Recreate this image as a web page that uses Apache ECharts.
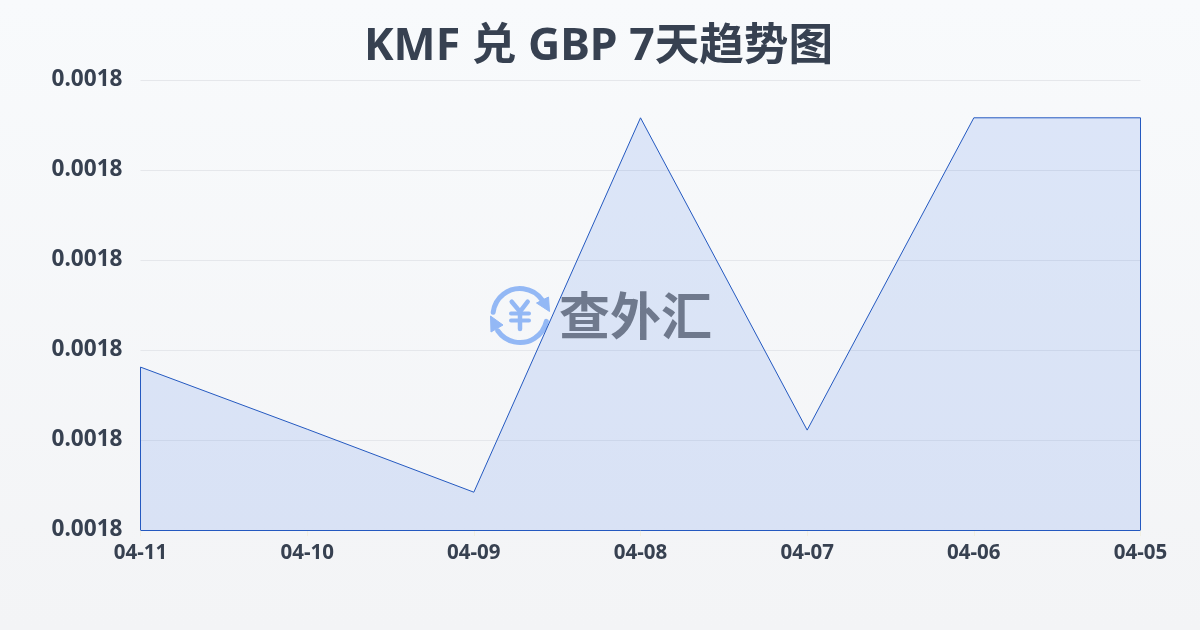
<!DOCTYPE html>
<html><head><meta charset="utf-8">
<style>html,body{margin:0;padding:0;width:1200px;height:630px;overflow:hidden}#c{width:1200px;height:630px}</style>
<script src="https://cdn.jsdelivr.net/npm/echarts@6/dist/echarts.min.js"></script>
</head><body><div id="c"></div>
<script>
const categories = ['04-11','04-10','04-09','04-08','04-07','04-06','04-05'];
const rates = [0.0017981,0.0017912,0.0017842,0.0018258,0.0017911,0.0018258,0.0018258];
const yMin = 0.00178, yMax = 0.00183, yStep = 0.00001;
const titleText = 'KMF 兑 GBP 7天趋势图';
const brandText = '查外汇';
const FONT = '"Noto Sans","Noto Sans CJK SC",sans-serif';
const lineColor = '#2459c0';
const blue = '#93b8f5';
const last = categories.length - 1;
const chart = echarts.init(document.getElementById('c'), null, {renderer:'canvas'});
chart.setOption({
  animation:false,
  backgroundColor:new echarts.graphic.LinearGradient(0,0,0,1,[{offset:0,color:'#f8fafc'},{offset:1,color:'#f3f4f6'}]),
  title:{text:titleText,left:359,top:20,textStyle:{fontFamily:FONT,fontSize:44.6,fontWeight:'bold',color:'#374151'}},
  grid:{left:140.5,right:59.5,top:80,bottom:100,containLabel:false},
  xAxis:{type:'category',data:categories,boundaryGap:false,
    axisLine:{show:false},
    axisTick:{show:true,length:6,lineStyle:{color:'#f1efe2'}},
    axisLabel:{fontFamily:FONT,fontSize:20.5,fontWeight:'bold',color:'#374151',margin:13,hideOverlap:false,interval:0},
    splitLine:{show:false}},
  yAxis:{type:'value',min:yMin,max:yMax,interval:yStep,
    axisLine:{show:false},axisTick:{show:false},
    axisLabel:{fontFamily:FONT,fontSize:22.6,fontWeight:'bold',color:'#374151',margin:18,formatter:v=>v.toFixed(4)},
    splitLine:{show:true,lineStyle:{color:'#e5e7eb',width:1}}},
  series:[{type:'line',data:rates,symbol:'none',smooth:false,
    lineStyle:{color:lineColor,width:1},
    areaStyle:{color:'rgba(37,99,235,0.13)',opacity:1,origin:'start'},
    markLine:{silent:true,symbol:'none',label:{show:false},animation:false,
      lineStyle:{color:lineColor,width:1,type:'solid'},
      data:[
        [{xAxis:categories[0],yAxis:yMin},{xAxis:categories[0],yAxis:rates[0]}],
        [{xAxis:categories[0],yAxis:yMin},{xAxis:categories[last],yAxis:yMin}],
        [{xAxis:categories[last],yAxis:yMin},{xAxis:categories[last],yAxis:rates[last]}]
      ]}
  }],
  graphic:{elements:[
    {type:'group',x:0,y:0,z:100,silent:true,children:[
      {type:'arc',shape:{cx:520,cy:315.5,r:27,startAngle:-3.02,endAngle:-0.6,clockwise:true},style:{stroke:blue,lineWidth:5,fill:null,lineCap:'round'}},
      {type:'arc',shape:{cx:520,cy:315.5,r:27,startAngle:0.22,endAngle:2.54,clockwise:true},style:{stroke:blue,lineWidth:5,fill:null,lineCap:'round'}},
      {type:'polygon',shape:{points:[[549.5,311.5],[536.5,303],[548.5,297]]},style:{fill:blue,stroke:blue,lineWidth:1,lineJoin:'round'}},
      {type:'polygon',shape:{points:[[490.5,316],[503,325],[491,332]]},style:{fill:blue,stroke:blue,lineWidth:1,lineJoin:'round'}},
      {type:'polyline',shape:{points:[[511.7,301.7],[520,311.7],[527.7,301.7]]},style:{stroke:blue,lineWidth:4.5,fill:null,lineCap:'round'}},
      {type:'line',shape:{x1:520,y1:311.7,x2:520,y2:329},style:{stroke:blue,lineWidth:4.5,lineCap:'round'}},
      {type:'line',shape:{x1:511,y1:313.5,x2:529,y2:313.5},style:{stroke:blue,lineWidth:4,lineCap:'round'}},
      {type:'line',shape:{x1:511,y1:320.5,x2:529,y2:320.5},style:{stroke:blue,lineWidth:4,lineCap:'round'}}
    ]},
    {type:'text',left:559,top:290,z:100,silent:true,style:{text:brandText,fontFamily:'"Noto Sans CJK SC"',fontSize:51,fontWeight:'bold',fill:'rgba(75,85,105,0.75)'}}
  ]}
});
</script></body></html>
